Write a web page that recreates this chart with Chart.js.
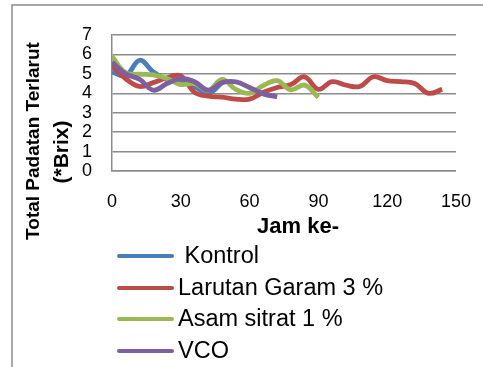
<!DOCTYPE html>
<html>
<head>
<meta charset="utf-8">
<script src="https://cdn.jsdelivr.net/npm/chart.js@4"></script>
<style>
  body { margin: 0; background: #fff; }
  #wrap { width: 483px; height: 367px; }
</style>
</head>
<body>
<div id="wrap"><canvas id="chart" width="483" height="367"></canvas></div>
<script>
// jam pengamatan (setiap 6 jam)
const jam = [0, 6, 12, 18, 24, 30, 36, 42, 48, 54, 60, 66, 72, 78, 84, 90, 96, 102, 108, 114, 120, 126, 132, 138, 144];

const kontrol = [5.1, 4.9, 5.7, 5.1, 4.7, 4.6, 4.35, 4.0, 4.55];
const garam = [5.4, 4.75, 4.35, 4.55, 4.8, 4.9, 4.05, 3.85, 3.8, 3.7, 3.7, 4.05, 4.3, 4.45, 4.85, 4.2, 4.6, 4.42, 4.35, 4.85, 4.65, 4.6, 4.5, 4.0, 4.2];
const sitrat = [5.9, 5.05, 4.98, 4.95, 4.76, 4.45, 4.5, 4.15, 4.72, 4.2, 4.0, 4.4, 4.65, 4.18, 4.42, 3.78];
const vco = [5.6, 5.0, 4.72, 4.16, 4.5, 4.76, 4.59, 4.16, 4.55, 4.59, 4.3, 3.97, 3.82];

const seriesNames = [' Kontrol', 'Larutan Garam 3 %', 'Asam sitrat 1 %', 'VCO'];
const seriesColors = ['#4A7EBB', '#BE4B48', '#98B954', '#7D60A0'];

const xTicks = [0, 30, 60, 90, 120, 150];
const yTicks = [0, 1, 2, 3, 4, 5, 6, 7];

const FONT = '"Liberation Sans", Arial, sans-serif';

function toPoints(values) {
    return values.map((v, i) => ({ x: jam[i], y: v }));
}

const allSeries = [kontrol, garam, sitrat, vco];

// teks sumbu, legenda dan bingkai luar
const extras = {
    id: 'extras',
    afterDraw(chart) {
        const ctx = chart.ctx;
        ctx.save();

        ctx.strokeStyle = '#8c8c8c';
        ctx.lineWidth = 1.5;
        ctx.strokeRect(12, 5, 600, 600);

        ctx.fillStyle = '#000';
        ctx.textAlign = 'center';
        ctx.textBaseline = 'middle';

        ctx.font = 'bold 19px ' + FONT;
        ctx.save();
        ctx.translate(34, 141);
        ctx.rotate(-Math.PI / 2);
        ctx.fillText('Total Padatan Terlarut', 0, 0);
        ctx.restore();
        ctx.save();
        ctx.translate(62, 152);
        ctx.rotate(-Math.PI / 2);
        ctx.font = 'bold 21px ' + FONT;
        ctx.fillText('(*Brix)', 0, 0);
        ctx.restore();

        ctx.font = 'bold 22px ' + FONT;
        ctx.fillText('Jam ke-', 298, 227);

        // legenda
        const rows = [256, 288, 319, 351];
        ctx.textAlign = 'left';
        ctx.font = '23.5px ' + FONT;
        chart.data.datasets.forEach((ds, i) => {
            const y = rows[i];
            ctx.strokeStyle = ds.borderColor;
            ctx.lineWidth = 4;
            ctx.lineCap = 'round';
            ctx.beginPath();
            ctx.moveTo(119, y);
            ctx.lineTo(172, y);
            ctx.stroke();
            ctx.fillStyle = '#000';
            ctx.fillText(ds.label, 178, y + 1);
        });

        ctx.restore();
    }
};

new Chart(document.getElementById('chart'), {
    type: 'line',
    data: {
        datasets: allSeries.map((vals, i) => ({
            label: seriesNames[i],
            data: toPoints(vals),
            borderColor: seriesColors[i],
            backgroundColor: seriesColors[i],
            borderWidth: 4.8,
            pointRadius: 0,
            tension: 0.4,
            fill: false,
            order: 3 - i
        }))
    },
    options: {
        responsive: false,
        animation: false,
        layout: { padding: { top: 35, right: 25, bottom: 146, left: 0 } },
        plugins: {
            legend: { display: false },
            tooltip: { enabled: false }
        },
        scales: {
            x: {
                type: 'linear',
                min: 0,
                max: 150,
                afterFit: s => { s.height = 50; },
                afterBuildTicks: s => { s.ticks = xTicks.map(v => ({ value: v })); },
                grid: { display: false },
                border: { display: true, color: '#8c8c8c', width: 1.5 },
                ticks: { color: '#000', padding: 12, autoSkip: false, maxRotation: 0, font: { family: FONT, size: 18 } }
            },
            y: {
                min: 0,
                max: 7,
                afterFit: s => { s.width = 112; },
                afterBuildTicks: s => { s.ticks = yTicks.map(v => ({ value: v })); },
                grid: { color: '#8c8c8c', lineWidth: 1.5, drawTicks: false },
                border: { display: true, color: '#8c8c8c', width: 1.5 },
                ticks: { color: '#000', padding: 20, autoSkip: false, font: { family: FONT, size: 18 } }
            }
        }
    },
    plugins: [extras]
});
</script>
</body>
</html>
